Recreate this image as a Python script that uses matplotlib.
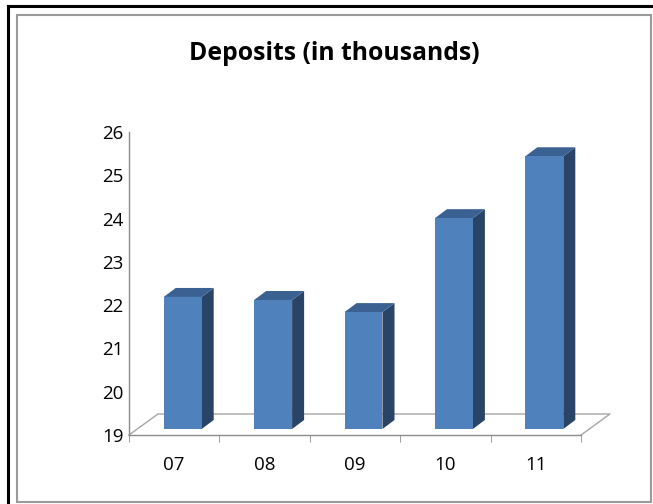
import numpy as np
import matplotlib.pyplot as plt
from matplotlib.patches import Polygon, Rectangle
from matplotlib.lines import Line2D

plt.rcParams['font.family'] = ['Open Sans', 'DejaVu Sans']

# data
years = ["07", "08", "09", "10", "11"]
deposits = [22.05, 21.98, 21.7, 23.87, 25.3]
title = "Deposits (in thousands)"

# fake 3d depth (data units)
floor_dx, floor_dy = 0.32, 0.485
bar_dx, bar_dy = 0.133, 0.208
shift_x, shift_y = 0.094, 0.139
bar_w = 0.42
ymin, ymax = 19, 26

front = '#4F81BD'
side = '#2A4467'
top = '#3A6192'
grey = '#A6A6A6'

fig = plt.figure(figsize=(6.53, 5.04), dpi=100)

# outer frame lines
fig.patches.append(Rectangle((17/653, 2/504), 634/653, 487/504, transform=fig.transFigure,
                             fill=False, edgecolor='#9A9A9A', lw=1.5))
fig.lines.append(Line2D([8/653, 8/653], [0, 498/504], transform=fig.transFigure, color='black', lw=2.2))
fig.lines.append(Line2D([8/653, 1], [498/504, 498/504], transform=fig.transFigure, color='black', lw=2.2))

ax = fig.add_axes([129/653, 69/504, 452/653, 303/504])
x = np.arange(len(years))
ax.set_xlim(-0.5, len(years) - 0.5)
ax.set_ylim(ymin, ymax)

# floor
x0, x1 = -0.5, len(years) - 0.5
ax.plot([x0, x0 + floor_dx, x1 + floor_dx, x1], [ymin, ymin + floor_dy, ymin + floor_dy, ymin],
        color=grey, lw=1, clip_on=False, zorder=1)

# bars
base = ymin + shift_y
vals = np.array(deposits)
ax.bar(x + shift_x, vals - ymin, bottom=base, width=bar_w, color=front, zorder=3)
for xi, v in zip(x, vals):
    l = xi + shift_x - bar_w / 2
    r = xi + shift_x + bar_w / 2
    t = v + shift_y
    ax.add_patch(Polygon([(r, base), (r + bar_dx, base + bar_dy), (r + bar_dx, t + bar_dy), (r, t)],
                         closed=True, facecolor=side, edgecolor='none', zorder=2, clip_on=False))
    ax.add_patch(Polygon([(l, t), (r, t), (r + bar_dx, t + bar_dy), (l + bar_dx, t + bar_dy)],
                         closed=True, facecolor=top, edgecolor='none', zorder=2, clip_on=False))

for s in ['top', 'right']:
    ax.spines[s].set_visible(False)
for s in ['left', 'bottom']:
    ax.spines[s].set_color('#8C8C8C')
    ax.spines[s].set_linewidth(1)

ax.set_yticks(range(ymin, ymax + 1))
ax.tick_params(axis='y', length=0, pad=4, labelsize=13.5)
ax.set_xticks(x)
ax.set_xticklabels(years)
ax.set_xticks(np.arange(-0.5, len(years)), minor=True)
ax.tick_params(axis='x', which='major', length=0, pad=15, labelsize=13.5)
ax.tick_params(axis='x', which='minor', length=5, color='#8C8C8C', direction='out')

fig.text(334/653, 1 - 53/504, title, ha='center', va='center', fontsize=17.8, fontweight='bold')

fig.savefig('out.png', dpi=100)
